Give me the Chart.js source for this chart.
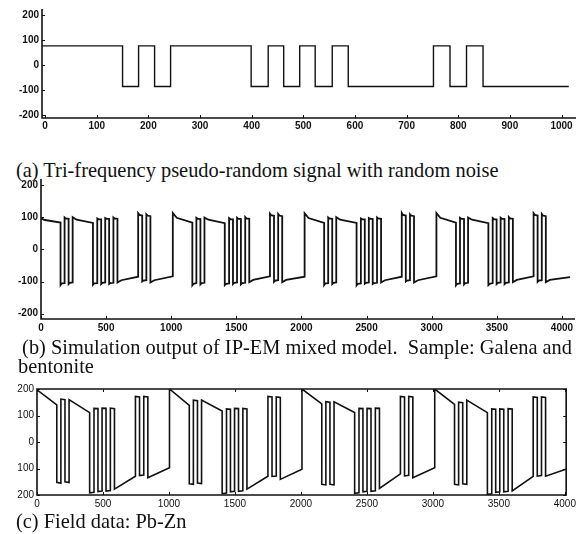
<!DOCTYPE html>
<html>
<head>
<meta charset="utf-8">
<script src="https://cdn.jsdelivr.net/npm/chart.js@4.4.0/dist/chart.umd.min.js"></script>
<style>
  html, body { margin:0; padding:0; background:#fff; }
  #page { position:relative; width:579px; height:534px; overflow:hidden; background:#fff; }
  canvas { position:absolute; left:0; }
  .cap { position:absolute; font-family:"Liberation Serif","Times New Roman",serif; font-size:20.4px;
         color:#111; white-space:pre; line-height:20px; }
</style>
</head>
<body>
<div id="page">
  <canvas id="cA" width="579" height="140" style="top:0px;width:579px;height:140px"></canvas>
  <div class="cap" style="left:16px;top:160px">(a) Tri-frequency pseudo-random signal with random noise</div>
  <canvas id="cB" width="579" height="168" style="top:170px;width:579px;height:168px"></canvas>
  <div class="cap" style="left:17px;top:337px"> (b) Simulation output of IP-EM mixed model.  Sample: Galena and</div>
  <div class="cap" style="left:18px;top:356px">bentonite</div>
  <canvas id="cC" width="579" height="132" style="top:380px;width:579px;height:132px"></canvas>
  <div class="cap" style="left:16px;top:511px">(c) Field data: Pb-Zn</div>
</div>
<script>
// ---- (a) pseudo-random signal: switch times and levels
const aEdges = [-6,150,181,212,243,399,432,462,493,523,556,587,752,784,816,848,1014];
const aLevel = [78,-84,78,-84,78,-84,78,-84,78,-84,78,-84,78,-84,78,-84];
const aXTicks = [0,100,200,300,400,500,600,700,800,900,1000];
const aYTicks = [-200,-100,0,100,200];

// ---- (b) simulated IP-EM response: switch times, value at start / knee / end of each run
const bEdges = [
  0,150,181,212,243,399,432,462,493,523,556,587,746,777,809,840,
  1012,1162,1193,1224,1255,1411,1444,1474,1505,1535,1568,1599,1758,1789,1821,1852,
  2024,2174,2205,2236,2267,2423,2456,2486,2517,2547,2580,2611,2770,2801,2833,2864,
  3036,3186,3217,3248,3279,3435,3468,3498,3529,3559,3592,3623,3782,3813,3845,3876,
  4062];
const bStart = [
  97,-111,100,-108,101,-110,97,-108,98,-108,100,-103,113,-100,110,-103,
  114,-112,99,-109,100,-111,98,-108,99,-109,101,-102,112,-101,111,-102,
  113,-111,100,-108,101,-112,97,-107,98,-108,100,-103,114,-100,110,-103,
  114,-112,99,-109,100,-111,98,-108,99,-108,101,-102,113,-101,111,-102];
const bKnee = [
  92,-106,97,-104,93,-106,95,-104,96,-105,97,-96,108,-97,106,-96,
  99,-107,96,-105,93,-107,95,-104,96,-105,97,-95,107,-97,106,-95,
  98,-106,97,-104,93,-107,95,-104,96,-105,97,-96,108,-97,106,-96,
  99,-107,96,-105,93,-107,95,-104,96,-104,97,-95,108,-97,106,-95];
const bEnd = [
  84,-105,96,-103,83,-105,94,-103,95,-104,96,-85,106,-96,104,-84,
  84,-105,95,-104,82,-106,94,-103,95,-104,96,-84,105,-96,104,-85,
  83,-105,96,-103,83,-106,94,-103,95,-104,96,-85,106,-96,104,-84,
  84,-106,95,-104,82,-105,94,-103,95,-103,96,-84,106,-96,104,-86];
const bXTicks = [0,500,1000,1500,2000,2500,3000,3500,4000];
const bYTicks = [-200,-100,0,100,200];

// ---- (c) field data Pb-Zn: switch times, value at start / end of each run
const cEdges = [
  0,150,181,212,243,399,432,462,493,523,556,587,746,777,809,840,
  1004,1154,1185,1216,1247,1403,1436,1466,1497,1527,1560,1591,1750,1781,1813,1844,
  2008,2158,2189,2220,2251,2407,2440,2470,2501,2531,2564,2595,2754,2785,2817,2848,
  3014,3164,3195,3226,3257,3413,3446,3476,3507,3537,3570,3601,3760,3791,3823,3854,
  4007];
const cStart = [
  197,-152,162,-150,160,-192,127,-187,128,-185,128,-178,172,-127,172,-135,
  200,-158,158,-155,158,-195,125,-188,127,-186,127,-178,172,-130,170,-141,
  200,-160,152,-160,152,-194,127,-188,127,-186,128,-175,172,-128,172,-135,
  200,-160,150,-158,158,-197,125,-190,125,-188,126,-185,170,-129,170,-129];
const cEnd = [
  140,-156,160,-153,111,-190,126,-185,127,-183,126,-129,170,-125,170,-97,
  138,-160,156,-157,117,-193,124,-186,126,-184,125,-129,170,-128,168,-103,
  144,-162,150,-162,111,-192,126,-186,126,-184,127,-120,170,-126,170,-97,
  142,-162,148,-160,111,-195,124,-188,124,-186,125,-130,168,-127,168,-103];
const cXTicks = [0,500,1000,1500,2000,2500,3000,3500,4000];
const cYTicks = [-200,-100,0,100,200];
const cYText = ['200','100','0','100','200']; // minus signs are lost in the print

// points of a stepped trace, one run after another
function runPoints(edges, start, end, knee){
  const pts = [];
  for (let i = 0; i < start.length; i++){
    const x0 = edges[i], x1 = edges[i+1];
    pts.push({x:x0, y:start[i]});
    if (knee) pts.push({x:x0 + Math.min(30, (x1-x0)*0.3), y:knee[i]});
    pts.push({x:x1, y:end[i]});
  }
  return pts;
}

// axis lines + small inward ticks, like the printed figure
const frame = {
  id:'frame',
  afterDatasetsDraw(chart, args, opts){
    const {ctx, chartArea:a, scales:{x, y}} = chart;
    ctx.save();
    ctx.strokeStyle = '#111';
    ctx.lineWidth = 1.6;
    ctx.beginPath();
    if (opts.box) ctx.rect(a.left, a.top, a.right-a.left, a.bottom-a.top);
    else { ctx.moveTo(a.left, a.top); ctx.lineTo(a.left, a.bottom); ctx.lineTo(a.right, a.bottom); }
    ctx.stroke();
    ctx.lineWidth = 1;
    ctx.beginPath();
    x.ticks.forEach(t => {
      const px = Math.round(x.getPixelForValue(t.value)) + 0.5;
      ctx.moveTo(px, a.bottom); ctx.lineTo(px, a.bottom-3);
      if (opts.box){ ctx.moveTo(px, a.top); ctx.lineTo(px, a.top+3); }
    });
    y.ticks.forEach(t => {
      const py = Math.round(y.getPixelForValue(t.value)) + 0.5;
      ctx.moveTo(a.left, py); ctx.lineTo(a.left+3, py);
      if (opts.box){ ctx.moveTo(a.right, py); ctx.lineTo(a.right-3, py); }
    });
    ctx.stroke();
    ctx.restore();
  }
};

function panel(id, pts, o){
  const cv = document.getElementById(id);
  const W = cv.width, H = cv.height;
  const font = {family:'"Liberation Sans", Arial, sans-serif', size:10, weight:o.bold ? 'bold' : 'normal'};
  return new Chart(cv.getContext('2d'), {
    type:'line',
    data:{ datasets:[{ data:pts, borderColor:'#111', borderWidth:o.lw, pointRadius:0, tension:0, fill:false }] },
    options:{
      responsive:false, animation:false, events:[],
      layout:{ padding:{ top:o.area.top, right:W - o.area.right, left:0, bottom:0 } },
      plugins:{ legend:{display:false}, tooltip:{enabled:false}, frame:{ box:o.box } },
      scales:{
        x:{ type:'linear', min:o.xMin, max:o.xMax,
            afterBuildTicks: s => { s.ticks = o.xTicks.map(v => ({value:v})); },
            afterFit: s => { s.height = H - o.area.bottom; },
            grid:{display:false, drawTicks:false}, border:{display:false},
            ticks:{ font, color:'#111', padding:o.xPad, maxRotation:0, autoSkip:false,
                    callback: v => String(v) } },
        y:{ type:'linear', min:o.yMin, max:o.yMax,
            afterBuildTicks: s => { s.ticks = o.yTicks.map(v => ({value:v})); },
            afterFit: s => { s.width = o.area.left; },
            grid:{display:false, drawTicks:false}, border:{display:false},
            ticks:{ font, color:'#111', padding:3, autoSkip:false,
                    callback: (v, i) => o.yText ? o.yText[i] : String(v) } }
      }
    },
    plugins:[frame]
  });
}

panel('cA', runPoints(aEdges, aLevel, aLevel), {
  area:{left:42, top:4, right:576, bottom:118},
  xMin:-6, xMax:1028, yMin:-210, yMax:225,
  xTicks:aXTicks, yTicks:aYTicks, xPad:2, bold:true, lw:1.4, box:false });

panel('cB', runPoints(bEdges, bStart, bEnd, bKnee), {
  area:{left:41, top:9, right:575, bottom:149},
  xMin:0, xMax:4100, yMin:-217, yMax:220,
  xTicks:bXTicks, yTicks:bYTicks, xPad:3, bold:true, lw:1.8, box:false });

panel('cC', runPoints(cEdges, cStart, cEnd), {
  area:{left:37, top:8, right:568, bottom:115},
  xMin:0, xMax:4010, yMin:-200, yMax:200,
  xTicks:cXTicks, yTicks:cYTicks, yText:cYText, xPad:3, bold:false, lw:1.6, box:true });
</script>
</body>
</html>
